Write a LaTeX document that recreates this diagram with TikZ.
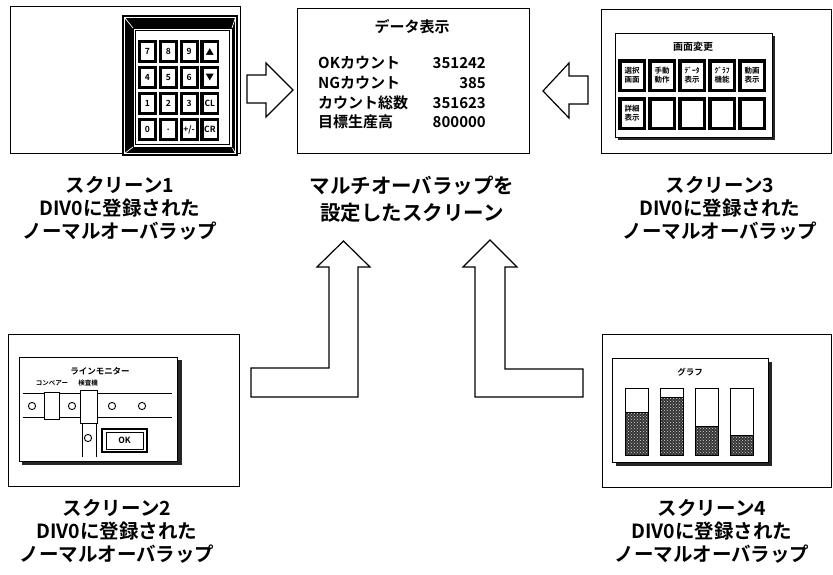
\documentclass[tikz,border=0pt]{standalone}
\usepackage{fontspec}
\usetikzlibrary{patterns}
\setmainfont{Noto Sans CJK JP}[BoldFont={Noto Sans CJK JP Bold}]
\begin{document}
\begin{tikzpicture}[x=1pt,y=-1pt,line join=miter]
\tikzset{
  frame/.style={draw, line width=1.3pt, inner sep=0pt, anchor=north west},
  lbl/.style={font=\bfseries\fontsize{19.5}{23}\selectfont, align=center, inner sep=0pt},
  blockarrow/.style={draw, line width=1.2pt, fill=white},
  panel/.style={draw, line width=1pt, fill=white},
  shadow/.style={fill=black!85},
  tiny/.style={font=\bfseries\fontsize{8}{9}\selectfont, inner sep=0pt, align=center},
  datatxt/.style={font=\bfseries\fontsize{15}{18}\selectfont, inner sep=0pt},
  bar/.style={draw, line width=0.9pt},
  barfill/.style={fill=black!80},
  bardots/.style={pattern=crosshatch dots, pattern color=white!85!black},
}
\useasboundingbox (0,0) rectangle (833,574);

% ---------- screen frames ----------
\node[frame, minimum width=230pt, minimum height=147pt] (s1) at (10,6) {};
\node[frame, minimum width=232pt, minimum height=145pt] (c)  at (297,8) {};
\node[frame, minimum width=230pt, minimum height=144pt] (s3) at (601,9) {};
\node[frame, minimum width=231pt, minimum height=152pt] (s2) at (8,334) {};
\node[frame, minimum width=229pt, minimum height=153pt] (s4) at (602,334) {};

% ---------- captions ----------
\node[lbl] (l1) at (120,208) {スクリーン1\\DIV0に登録された\\ノーマルオーバラップ};
\node[lbl] (l3) at (720,208) {スクリーン3\\DIV0に登録された\\ノーマルオーバラップ};
\node[lbl] (l2) at (117,531) {スクリーン2\\DIV0に登録された\\ノーマルオーバラップ};
\node[lbl] (l4) at (712,531) {スクリーン4\\DIV0に登録された\\ノーマルオーバラップ};
\node[lbl, font=\bfseries\fontsize{20.5}{27}\selectfont] (lc) at (412,199) {マルチオーバラップを\\設定したスクリーン};

% ---------- data display (centre screen) ----------
\node[datatxt] (ttl) at (412,27) {データ表示};
\node[datatxt, anchor=west] (k1) at (318,63)  {OKカウント};
\node[datatxt, anchor=west] (k2) at (318,83)  {NGカウント};
\node[datatxt, anchor=west] (k3) at (318,103) {カウント総数};
\node[datatxt, anchor=west] (k4) at (318,122) {目標生産高};
\node[datatxt, anchor=east] (v1) at (486,63)  {351242};
\node[datatxt, anchor=east] (v2) at (486,83)  {385};
\node[datatxt, anchor=east] (v3) at (486,103) {351623};
\node[datatxt, anchor=east] (v4) at (486,122) {800000};

% ---------- keypad (screen 1) ----------
\fill[black] (122,15) rectangle (238,156);
\draw[white, line width=0.7pt] (124.5,17.5) rectangle (235.5,153.5);
\draw[white, line width=0.7pt] (124.5,17.5) -- (133,28) (235.5,17.5) -- (232,28)
  (124.5,153.5) -- (133,147) (235.5,153.5) -- (232,147);
\draw[fill=white, line width=0.8pt] (133,28) rectangle (232,147);
\draw[line width=0.6pt] (135.5,30.5) rectangle (229.5,144.5);
\foreach \lab [count=\i from 0] in {7,8,9,▲,4,5,6,▼,1,2,3,CL,0,.,+/-,CR} {
  \pgfmathsetmacro\kx{138+20.8*mod(\i,4)}
  \pgfmathsetmacro\ky{40+26*div(\i,4)}
  \fill[black] (\kx,\ky) rectangle ++(19,23);
  \draw[fill=white, line width=0.5pt] (\kx+2.6,\ky+2.6) rectangle ++(13.8,17.8);
  \node[tiny, font=\bfseries\fontsize{8.5}{9}\selectfont] at (\kx+9.5,\ky+11.5) {\lab};
}

% ---------- screen-change menu (screen 3) ----------
\fill[shadow] (618,36) rectangle (775,140);
\draw[panel] (615,33) rectangle (772,137);
\node[tiny, font=\bfseries\fontsize{10}{11}\selectfont] (mt) at (693,47) {画面変更};
\foreach \lab [count=\i from 0] in {選択\\画面,手動\\動作,ﾃﾞｰﾀ\\表示,ｸﾞﾗﾌ\\機能,動画\\表示,詳細\\表示,{},{},{},{}} {
  \pgfmathsetmacro\bx{618+30*mod(\i,5)}
  \pgfmathsetmacro\by{59+38*div(\i,5)}
  \fill[black] (\bx,\by) rectangle ++(28,33);
  \draw[fill=white, line width=0.5pt] (\bx+3,\by+3) rectangle ++(22,27);
  \node[tiny, font=\bfseries\fontsize{7.5}{9}\selectfont] at (\bx+14,\by+16.5) {\lab};
}

% ---------- line monitor (screen 2) ----------
\fill[shadow] (22,360) rectangle (182,465);
\draw[panel] (19,357) rectangle (177,461);
\node[tiny, font=\bfseries\fontsize{8.5}{9}\selectfont] (lm) at (100,371) {ラインモニター};
\node[tiny, font=\bfseries\fontsize{6.5}{7}\selectfont] (cv) at (52,383) {コンベアー};
\node[tiny, font=\bfseries\fontsize{6.5}{7}\selectfont] (ins) at (88,383) {検査機};
\draw[line width=0.9pt] (23,393) -- (172,393) (23,417) -- (172,417);
\draw[line width=0.9pt, fill=white] (44,392) rectangle (59,419);
\draw[line width=0.9pt, fill=white] (80,390) rectangle (97,423);
\draw[line width=0.9pt] (82,423) -- (82,457) (96,423) -- (96,457);
\foreach \cx/\cy in {32/406,72/406,112/406,142/406,88/438}
  \draw[line width=0.9pt, fill=white] (\cx,\cy) circle[radius=3.6pt];
\draw[line width=1.2pt] (102,429) rectangle (147,452);
\draw[line width=0.7pt] (106,432) rectangle (143,449);
\node[tiny, font=\bfseries\fontsize{8.5}{9}\selectfont] (ok) at (124.5,440.5) {OK};

% ---------- bar graph (screen 4) ----------
\fill[shadow] (616,362) rectangle (772,466);
\draw[panel] (612,358) rectangle (768,462);
\node[tiny, font=\bfseries\fontsize{8.5}{9}\selectfont] (gr) at (690,372) {グラフ};
\foreach \bx/\lv in {625/412,660/397,695/426,730/435} {
  \fill[barfill] (\bx,\lv) rectangle (\bx+23,455);
  \fill[bardots] (\bx,\lv) rectangle (\bx+23,455);
  \draw[bar] (\bx,388) rectangle (\bx+23,455);
  \draw[line width=0.7pt] (\bx,\lv) -- (\bx+23,\lv);
}

% ---------- block arrows towards the centre screen ----------
\draw[blockarrow] (247,75) -- (266,75) -- (266,63) -- (293,90) -- (266,117)
  -- (266,103) -- (247,103) -- cycle;
\draw[blockarrow] (588,76) -- (569,76) -- (569,63) -- (543,91) -- (569,118)
  -- (569,104) -- (588,104) -- cycle;
\draw[blockarrow] (251,368) -- (329,368) -- (329,267) -- (317,267) -- (343.5,241)
  -- (370,267) -- (358,267) -- (358,397) -- (251,397) -- cycle;
\draw[blockarrow] (583,369) -- (505,369) -- (505,267) -- (517,267) -- (490,240)
  -- (463,267) -- (475,267) -- (475,397) -- (583,397) -- cycle;
\end{tikzpicture}
\end{document}
